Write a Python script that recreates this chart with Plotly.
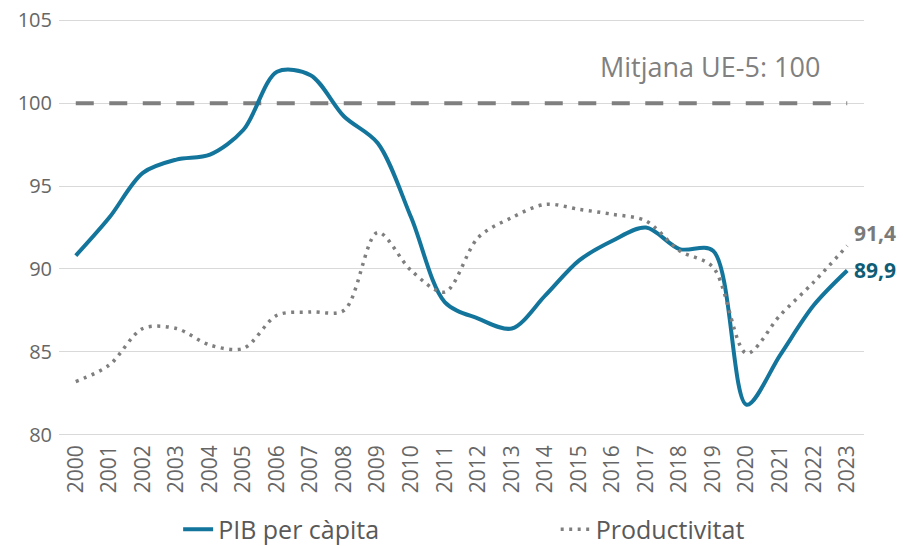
import plotly.graph_objects as go

years = [str(y) for y in range(2000, 2024)]
pib = [90.8, 93.1, 95.8, 96.6, 96.9, 98.4, 101.9, 101.7, 99.2, 97.6, 93.1, 88.0,
       87.0, 86.4, 88.4, 90.5, 91.7, 92.5, 91.2, 91.1, 81.8, 84.8, 87.8, 89.9]
prod = [83.2, 84.2, 86.4, 86.4, 85.4, 85.2, 87.2, 87.4, 87.5, 92.2, 89.9, 88.6,
        91.9, 93.1, 93.9, 93.6, 93.3, 92.9, 91.1, 90.1, 84.9, 87.2, 89.2, 91.4]
eu_avg = [100] * len(years)

blue = "#13759b"
gray = "#7f7f7f"
font_family = "Open Sans, Lato, sans-serif"

fig = go.Figure()
fig.add_trace(go.Scatter(x=years, y=eu_avg, mode="lines", showlegend=False,
                         line=dict(color=gray, width=4, dash="18px,15.5px"),
                         hoverinfo="skip"))
fig.add_trace(go.Scatter(x=years, y=pib, mode="lines", name="PIB per càpita",
                         line=dict(color=blue, width=4, shape="spline", smoothing=0.9),
                         legend="legend"))
fig.add_trace(go.Scatter(x=years, y=prod, mode="lines", name="Productivitat",
                         line=dict(color=gray, width=3.5, shape="spline", smoothing=0.9,
                                   dash="3px,5.5px"),
                         legend="legend2"))

fig.add_annotation(x=0.985, xref="paper", y=prod[-1], yref="y",
                   text="<b>" + f"{prod[-1]:.1f}".replace(".", ",") + "</b>",
                   showarrow=False, xanchor="left", yanchor="middle", yshift=13,
                   font=dict(size=21, color="#7a7a7a", family=font_family))
fig.add_annotation(x=0.985, xref="paper", y=pib[-1], yref="y",
                   text="<b>" + f"{pib[-1]:.1f}".replace(".", ",") + "</b>",
                   showarrow=False, xanchor="left", yanchor="middle", yshift=1,
                   font=dict(size=21, color="#0f5c75", family=font_family))
fig.add_annotation(x=0.948, xref="paper", y=101.0, yref="y", text="Mitjana UE-5: 100",
                   showarrow=False, xanchor="right", yanchor="bottom",
                   font=dict(size=27, color="#808080", family=font_family))

fig.update_layout(
    width=904, height=546,
    margin=dict(l=59, r=40, t=17.5, b=108.5, autoexpand=False),
    paper_bgcolor="white", plot_bgcolor="white",
    font=dict(family=font_family, color="#595959"),
    xaxis=dict(type="category", range=[-0.5, 23.5], tickangle=-90,
               tickfont=dict(size=21, color="#666666"), showgrid=False,
               showline=False, ticks="", automargin=False, ticklabelstandoff=3),
    yaxis=dict(range=[79.85, 105.15], tickmode="array", tickvals=[80, 85, 90, 95, 100, 105],
               tickfont=dict(size=20, color="#666666"), ticklabeloverflow="allow",
               gridcolor="#d9d9d9", gridwidth=1, zeroline=False, showline=False,
               ticks="", ticklabelstandoff=6, automargin=False),
    legend=dict(orientation="h", x=0.148, xanchor="left", y=-0.221, yanchor="middle",
                font=dict(size=25, color="#595959"), bgcolor="rgba(0,0,0,0)"),
    legend2=dict(orientation="h", x=0.617, xanchor="left", y=-0.221, yanchor="middle",
                 font=dict(size=25, color="#595959"), bgcolor="rgba(0,0,0,0)"),
    showlegend=True,
)

# remove the default 8px page margin so the figure fills the window exactly
fig.write_html("out.html", config={"displayModeBar": False},
               post_script="document.body.style.margin='0';")
